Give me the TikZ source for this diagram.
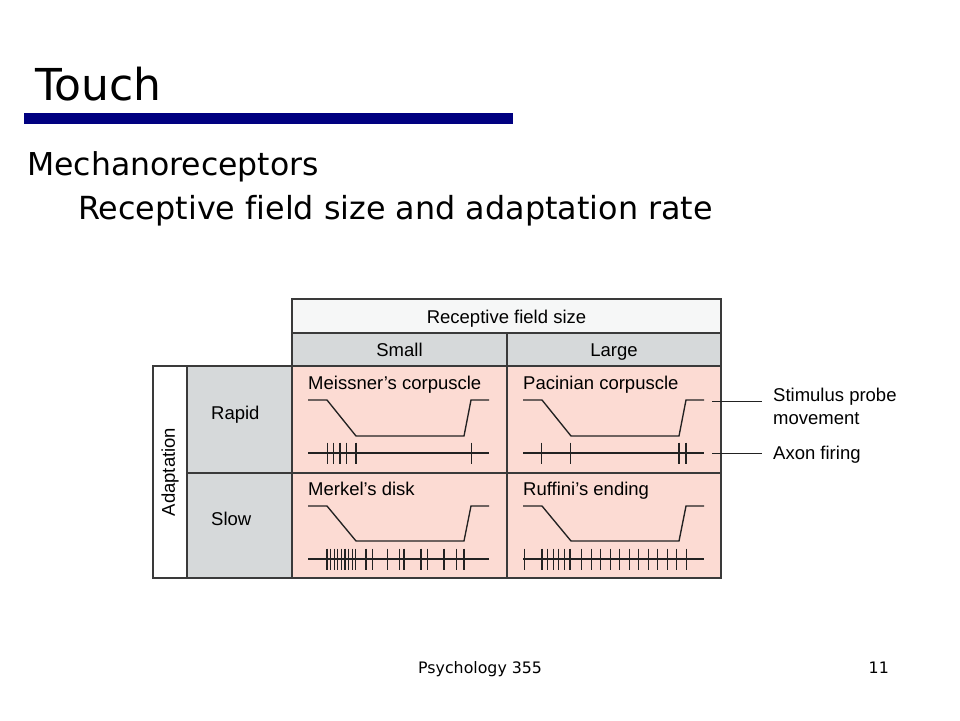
\documentclass[tikz,border=0pt]{standalone}
\usepackage{fontspec}
\setmainfont{DejaVu Sans}[Ligatures=NoCommon]
\newfontfamily\arialf{Liberation Sans}
\definecolor{navybar}{HTML}{000080}
\definecolor{hdrwhite}{HTML}{F6F7F7}
\definecolor{cellgray}{HTML}{D6D9DA}
\definecolor{cellpink}{HTML}{FCDBD3}
\definecolor{gridline}{HTML}{3A3A3A}
\definecolor{traceink}{HTML}{222222}
\tikzset{
  gridbox/.style={draw=gridline, line width=1.1pt},
  trace/.style={draw=traceink, line width=1.35pt},
  tabtext/.style={font=\arialf\fontsize{18.5}{22}\selectfont, text=black, inner sep=0pt},
  pointer/.style={draw=traceink, line width=0.9pt}
}
\newcommand\mystim[3]{%
  \draw[trace] ({#1+16},#2) -- ({#1+35},#2) -- ({#1+64},#3) -- ({#1+172},#3) -- ({#1+179},#2) -- ({#1+197},#2);}
\newcommand\myaxon[4]{% x0, axon y, spike half height, list
  \draw[trace] ({#1+16},#2) -- ({#1+197},#2);
  \foreach \s in {#4} {\draw[trace] ({#1+\s},{#2-#3}) -- ({#1+\s},{#2+#3});}}
\begin{document}
\begin{tikzpicture}[x=1pt,y=-1pt]
\useasboundingbox (0,0) rectangle (960,720);
\fill[white] (0,0) rectangle (960,720);

% slide title
\node[anchor=base west, inner sep=0pt, font=\fontsize{44}{50}\selectfont] (title) at (35,100) {Touch};
\fill[navybar] (24,113) rectangle (513,124);
\node[anchor=base west, inner sep=0pt, font=\fontsize{31.5}{36}\selectfont] (mech) at (27,175) {Mechanoreceptors};
\node[anchor=base west, inner sep=0pt, font=\fontsize{31.8}{36}\selectfont] (sub) at (78,219) {Receptive field size and adaptation rate};

% table backgrounds
\fill[hdrwhite] (292,299) rectangle (721,333);
\fill[cellgray] (292,333) rectangle (721,366);
\fill[white] (153,366) rectangle (187,578);
\fill[cellgray] (187,366) rectangle (292,578);
\fill[cellpink] (292,366) rectangle (721,578);

% grid
\draw[gridbox] (292,299) rectangle (721,578);
\draw[gridbox] (153,366) rectangle (292,578);
\draw[gridbox] (292,333) -- (721,333);
\draw[gridbox] (153,366) -- (721,366);
\draw[gridbox] (187,473) -- (721,473);
\draw[gridbox] (187,366) -- (187,578);
\draw[gridbox] (507,333) -- (507,578);

% header texts
\node[tabtext, anchor=base] (rfs) at (506.5,323) {Receptive field size};
\node[tabtext, anchor=base] (small) at (399.5,356.5) {Small};
\node[tabtext, anchor=base] (large) at (614,356.5) {Large};
\node[tabtext, anchor=base west] (rapid) at (211,419.5) {Rapid};
\node[tabtext, anchor=base west] (slow) at (211,525.5) {Slow};
\node[tabtext, rotate=90] (adapt) at (170,472) {Adaptation};

% cell labels
\node[tabtext, anchor=base west] (meis) at (308,389.5) {Meissner’s corpuscle};
\node[tabtext, anchor=base west] (paci) at (523,389.5) {Pacinian corpuscle};
\node[tabtext, anchor=base west] (merk) at (308,495.5) {Merkel’s disk};
\node[tabtext, anchor=base west] (ruff) at (523,495.5) {Ruffini’s ending};

% traces
\mystim{292}{400}{436}
\mystim{507}{400}{436}
\mystim{292}{506}{541}
\mystim{507}{506}{541}
\myaxon{292}{453}{10.5}{35.3,41.3,48,54.7,64,179.7}
\myaxon{507}{453}{10.5}{34.7,63.7,172,179}
\myaxon{292}{559}{10.5}{35,38.6,42.2,45.8,49.4,53,56.6,60.2,63.8,74,80.3,95.3,107.3,112,129,135.7,152,164.7,172}
\myaxon{507}{559}{10.5}{17.3,35,40.6,46.2,51.8,57.4,63,74.7,84.2,93.7,103.2,112.7,122.2,131.7,141.2,150.7,160.2,169.7,179.2}

% pointers and their labels
\node[tabtext, anchor=base west, align=left] (stimlab) at (773,401.5) {Stimulus probe};
\node[tabtext, anchor=base west] (stimlab2) at (773,424.5) {movement};
\node[tabtext, anchor=base west] (axonlab) at (773,459.5) {Axon firing};
\coordinate (stimend) at (712,401);
\coordinate (axonend) at (712,453);
\draw[pointer] (stimend) -- (762,401);
\draw[pointer] (axonend) -- (762,453);

% footer
\node[anchor=base west, inner sep=0pt, font=\fontsize{15.8}{18}\selectfont] (foot) at (418,673) {Psychology 355};
\node[anchor=base east, inner sep=0pt, font=\fontsize{15.8}{18}\selectfont] (pnum) at (889,673) {11};
\end{tikzpicture}
\end{document}
